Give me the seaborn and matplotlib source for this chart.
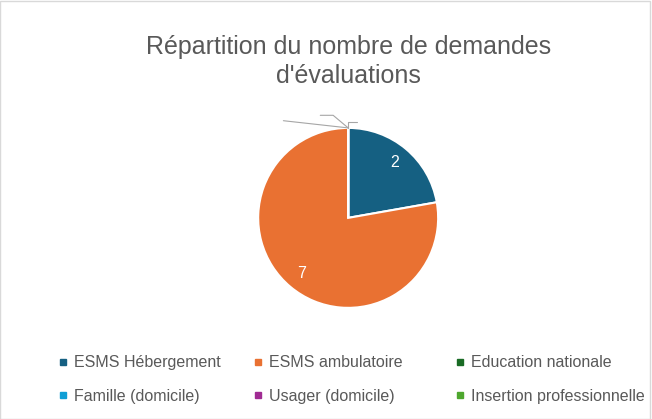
import matplotlib
matplotlib.use("Agg")
import matplotlib.pyplot as plt
import seaborn as sns

# data
categories = ["ESMS Hébergement", "ESMS ambulatoire", "Education nationale",
              "Famille (domicile)", "Usager (domicile)", "Insertion professionnelle"]
values = [2, 7, 0, 0, 0, 0]
colors = ["#156082", "#E97132", "#196B24", "#0F9ED5", "#A02B93", "#4EA72E"]
title = "Répartition du nombre de demandes\nd'évaluations"

sns.set_theme(style="white")
plt.rcParams["font.family"] = ["Liberation Sans", "DejaVu Sans"]

fig = plt.figure(figsize=(6.52, 4.19), dpi=100)
fig.patch.set_facecolor("white")
ax = fig.add_axes([0.534 - 0.138, 0.48 - 0.215, 0.276, 0.43])

total = sum(values)


def fmt(pct):
    v = round(pct * total / 100)
    return str(v) if v > 0 else ""


wedges, texts, autotexts = ax.pie(values, colors=colors, startangle=90, counterclock=False,
                                  autopct=fmt, pctdistance=0.8,
                                  wedgeprops=dict(edgecolor="white", linewidth=1.5),
                                  textprops=dict(color="white", fontsize=11.5))
ax.set_xlim(-1.0, 1.0)
ax.set_ylim(-1.0, 1.0)
ax.set_aspect("equal")

# leader lines of the empty slices
for tx, ty, cs in [(-0.72, 1.08, "arc3"), (-0.31, 1.14, "angle,angleA=0,angleB=140,rad=0"),
                   (0.1, 1.07, "angle,angleA=0,angleB=90,rad=0")]:
    ax.annotate("", xy=(0, 1.0), xytext=(tx, ty),
                arrowprops=dict(arrowstyle="-", color="#A6A6A6", lw=0.8, connectionstyle=cs,
                                shrinkA=0, shrinkB=0),
                annotation_clip=False)

fig.text(0.534, 0.853, title, ha="center", va="center", fontsize=18, color="#595959",
         linespacing=1.3)

# legend, three columns of two rows
col_x = [0.089, 0.388, 0.698]
for c in range(3):
    idx = [c, c + 3]
    handles = [plt.Line2D([], [], marker="s", linestyle="", markersize=4.5,
                          color=colors[i]) for i in idx]
    fig.legend(handles, [categories[i] for i in idx], loc="center left",
               bbox_to_anchor=(col_x[c], 0.094), frameon=False, fontsize=11.5,
               handlelength=0.6, handletextpad=0.4, labelspacing=1.15,
               labelcolor="#595959", borderpad=0, borderaxespad=0)

fig.add_artist(plt.Rectangle((0, 0), 0.997, 0.997, transform=fig.transFigure, fill=False,
                             edgecolor="#D9D9D9", lw=1))

fig.savefig("out.png", dpi=100, facecolor="white")
